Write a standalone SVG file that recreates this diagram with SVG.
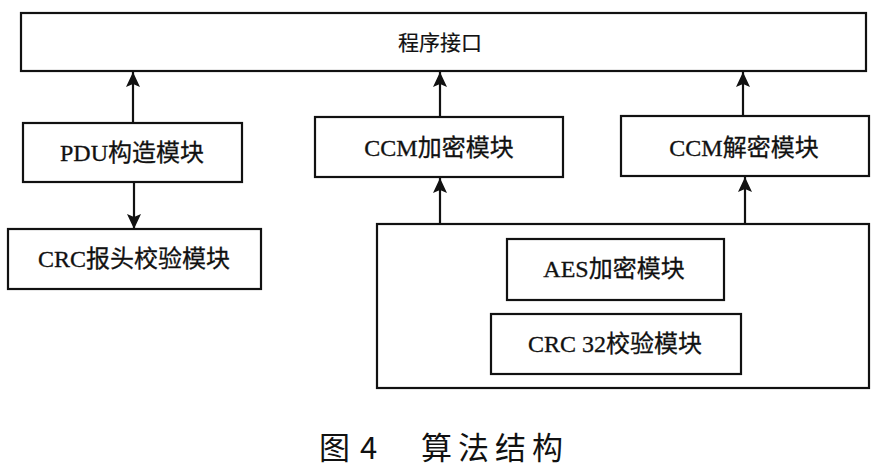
<svg xmlns="http://www.w3.org/2000/svg" width="891" height="473" viewBox="0 0 891 473">
<style>
.box{fill:none;stroke:#111;stroke-width:2.2}
.lbl{font-family:"Liberation Serif","Noto Sans CJK SC",serif;font-size:24px;fill:#111;stroke:#111;stroke-width:0.3;text-anchor:middle}
.edge{stroke:#111;stroke-width:2.2;fill:none;marker-end:url(#ah)}
.cap{font-family:"Noto Sans CJK SC",sans-serif;font-size:31px;fill:#111}
</style>
<defs>
<marker id="ah" markerUnits="userSpaceOnUse" markerWidth="16" markerHeight="14" refX="15" refY="7" orient="auto">
<path d="M0,0 L15,7 L0,14 L3,7 z" fill="#111"/>
</marker>
</defs>
<rect width="891" height="473" fill="#fff"/>
<g id="api"><rect class="box" x="21" y="13" width="845" height="58"/><text class="lbl" x="440" y="50" style="font-size:21px;stroke-width:0.2">程序接口</text></g>
<g id="pdu"><rect class="box" x="23" y="123" width="219" height="59"/><text class="lbl" x="132" y="161">PDU构造模块</text></g>
<g id="crc-header"><rect class="box" x="8" y="229" width="253" height="60"/><text class="lbl" x="134" y="267">CRC报头校验模块</text></g>
<g id="ccm-enc"><rect class="box" x="315" y="117" width="248" height="60"/><text class="lbl" x="439" y="156">CCM加密模块</text></g>
<g id="ccm-dec"><rect class="box" x="621" y="116" width="248" height="60"/><text class="lbl" x="744" y="156">CCM解密模块</text></g>
<g id="crypto-core"><rect class="box" x="377" y="224" width="492" height="164"/></g>
<g id="aes"><rect class="box" x="507" y="239" width="217" height="61"/><text class="lbl" x="614" y="277">AES加密模块</text></g>
<g id="crc32"><rect class="box" x="491" y="314" width="250" height="60"/><text class="lbl" x="615" y="352">CRC 32校验模块</text></g>
<g id="connectors">
<line class="edge" x1="133" y1="123" x2="133" y2="72"/>
<line class="edge" x1="134" y1="182" x2="134" y2="229"/>
<line class="edge" x1="440" y1="117" x2="440" y2="72"/>
<line class="edge" x1="743" y1="116" x2="743" y2="72"/>
<line class="edge" x1="440" y1="224" x2="440" y2="178"/>
<line class="edge" x1="745" y1="224" x2="745" y2="177"/>
</g>
<text class="cap" x="319" y="459">图</text>
<text class="cap" x="360" y="459">4</text>
<text class="cap" x="421" y="459" letter-spacing="6">算法结构</text>
</svg>
